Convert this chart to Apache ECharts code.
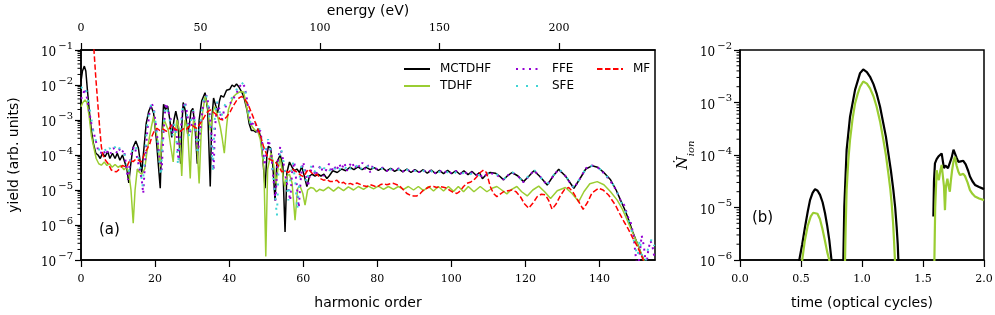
<!DOCTYPE html>
<html><head><meta charset="utf-8">
<script src="https://cdn.jsdelivr.net/npm/echarts@6/dist/echarts.min.js"></script>
<style>html,body{margin:0;padding:0;background:#fff}#c{width:995px;height:315px}</style>
</head><body><div id="c"></div>
<script>
// ---- Panel (a): yield vs harmonic order; y values are log10(yield) ----
const hoTicks = [0, 20, 40, 60, 80, 100, 120, 140];
const eVTicks = [0, 50, 100, 150, 200];
const eVPerHarmonic = 1.5498;
const hoMax = 155;

const mctdhf = [[0,-1.9],[0.4,-1.6],[0.9,-1.46],[1.3,-1.6],[1.7,-2.1],[2.2,-2.7],[2.8,-3.3],[3.4,-3.7],[4,-3.95],[4.6,-4.0],[5.2,-4.1],[5.8,-3.95],[6.5,-4.05],[7.2,-3.9],[7.8,-4.1],[8.5,-3.95],[9.2,-4.1],[9.8,-3.95],[10.5,-4.15],[11.2,-4.0],[11.8,-4.2],[12.4,-4.4],[12.9,-4.8],[13.4,-4.3],[14,-3.8],[14.8,-3.6],[15.5,-3.8],[16,-4.2],[16.4,-4.5],[17,-3.8],[17.6,-3.1],[18.3,-2.75],[18.9,-2.6],[19.6,-2.8],[20.3,-3.5],[20.9,-4.3],[21.4,-4.95],[21.8,-3.5],[22.3,-2.55],[22.8,-2.7],[23.4,-2.6],[24,-3.0],[24.5,-3.5],[25.1,-3.0],[25.6,-2.75],[26.1,-3.0],[26.5,-3.6],[26.9,-4.25],[27.2,-3.2],[27.6,-2.5],[28.2,-2.75],[28.8,-3.4],[29.3,-3.1],[29.7,-2.75],[30.2,-2.67],[30.8,-3.2],[31.4,-4.25],[31.9,-3.0],[32.6,-2.45],[33.5,-2.22],[34.2,-2.7],[34.9,-4.9],[35.3,-3.0],[35.8,-2.37],[36.4,-2.6],[36.9,-2.8],[37.4,-2.45],[37.8,-2.3],[38.5,-2.35],[39.3,-2.15],[40.2,-2.12],[40.8,-2.0],[41.4,-2.05],[42,-1.97],[42.6,-2.05],[43.4,-2.2],[44,-2.35],[44.8,-2.7],[45.4,-3.1],[46,-3.3],[46.6,-3.3],[47.2,-3.35],[47.9,-3.25],[48.5,-3.5],[49.1,-4.1],[49.7,-4.95],[50.2,-4.0],[50.6,-3.75],[51.2,-3.8],[51.8,-4.3],[52.4,-5.3],[52.9,-4.2],[53.8,-4.0],[54.5,-4.3],[55.1,-6.2],[55.6,-4.5],[56.3,-4.2],[57,-4.35],[57.6,-4.45],[58.3,-4.4],[59,-4.5],[59.6,-4.33],[60.3,-4.6],[61,-4.9],[61.7,-4.6],[62.4,-4.55],[63.2,-4.6],[64,-4.55],[64.8,-4.6],[65.6,-4.55],[66.4,-4.67],[67,-4.6],[68,-4.45],[69.2,-4.5],[70.4,-4.4],[71.5,-4.45],[72.6,-4.35],[73.7,-4.42],[74.8,-4.34],[75.9,-4.42],[77,-4.35],[78.1,-4.42],[79.2,-4.36],[80.3,-4.44],[81.4,-4.37],[82.5,-4.46],[83.6,-4.38],[84.7,-4.47],[85.8,-4.4],[86.9,-4.48],[88,-4.4],[89.1,-4.5],[90.2,-4.42],[91.3,-4.5],[92.4,-4.42],[93.5,-4.52],[94.6,-4.43],[95.7,-4.53],[96.8,-4.44],[97.9,-4.53],[99,-4.44],[100.1,-4.53],[101.2,-4.45],[102.3,-4.55],[103.4,-4.45],[104.5,-4.56],[105.6,-4.47],[106.7,-4.58],[107.6,-4.5],[108.4,-4.68],[109.5,-4.55],[110.5,-4.5],[111.9,-4.52],[113,-4.6],[114.1,-4.71],[115.3,-4.58],[116.4,-4.5],[118,-4.6],[119.5,-4.76],[121,-4.6],[122.3,-4.45],[124,-4.62],[125.9,-4.86],[127.5,-4.6],[129,-4.41],[130.8,-4.6],[133.1,-4.95],[134.6,-4.7],[136.3,-4.4],[138,-4.31],[139.5,-4.35],[141,-4.48],[143,-4.71],[144.5,-5.0],[145.7,-5.29],[147,-5.6],[147.9,-5.86],[149,-6.2],[150.2,-6.52],[151.2,-6.8],[152,-7.0],[153,-7.3]];

const tdhf = [[0,-2.62],[0.5,-2.5],[1.1,-2.43],[1.6,-2.5],[2.2,-2.9],[2.8,-3.45],[3.3,-3.7],[4.1,-4.1],[4.8,-4.25],[5.5,-4.29],[6.3,-4.2],[7,-4.3],[7.7,-4.25],[8.4,-4.35],[9.2,-4.27],[10,-4.35],[10.8,-4.3],[11.6,-4.42],[12.3,-4.35],[12.9,-4.5],[13.5,-5.0],[14.1,-5.95],[14.6,-5.0],[15.2,-4.4],[15.8,-4.5],[16.4,-4.55],[17.2,-4.4],[17.7,-4.0],[18.3,-3.6],[19,-3.2],[19.6,-2.9],[20.1,-2.95],[20.7,-3.6],[21.4,-4.33],[21.9,-3.4],[22.5,-3.0],[23,-3.05],[23.6,-3.3],[24.3,-3.8],[24.9,-4.2],[25.4,-3.4],[25.9,-3.0],[26.6,-3.3],[27.2,-4.6],[27.6,-3.6],[28.1,-3.0],[28.8,-3.3],[29.5,-4.67],[29.9,-3.5],[30.4,-3.0],[31.1,-3.3],[31.9,-4.81],[32.4,-3.5],[32.8,-2.81],[33.5,-2.33],[34.2,-2.6],[34.9,-3.3],[35.4,-3.0],[35.8,-2.7],[36.2,-2.62],[36.9,-2.9],[37.6,-3.2],[38.1,-3.5],[38.7,-3.95],[39.3,-3.2],[39.8,-2.71],[40.5,-2.5],[41.2,-2.33],[42,-2.25],[43,-2.19],[43.9,-2.2],[44.5,-2.5],[45.2,-2.9],[45.7,-3.1],[46.3,-3.2],[47,-3.29],[47.8,-3.35],[48.4,-3.55],[48.8,-3.86],[49.4,-4.4],[49.9,-6.9],[50.4,-4.4],[51.3,-3.95],[51.9,-4.2],[52.7,-4.81],[53.3,-4.3],[53.8,-4.1],[54.4,-4.5],[55,-4.9],[55.6,-4.6],[56.3,-4.55],[57,-4.8],[57.8,-5.86],[58.5,-4.95],[59.2,-4.9],[59.9,-5.1],[60.5,-5.43],[61.2,-5.0],[62,-4.93],[62.8,-4.95],[63.6,-5.05],[64.4,-4.98],[65.5,-5.02],[66.8,-4.92],[68.2,-5.03],[69.5,-4.92],[70.9,-5.02],[72.2,-4.91],[73.6,-5.0],[74.9,-4.9],[76.3,-4.98],[77.6,-4.89],[79,-4.97],[80.3,-4.89],[81.7,-4.98],[83,-4.9],[84.4,-4.98],[85.7,-4.9],[87.1,-4.98],[88.4,-4.9],[89.8,-5.0],[91.1,-4.9],[92.5,-5.02],[93.8,-4.9],[95.2,-5.03],[96.5,-4.9],[97.9,-5.03],[99.2,-4.9],[100.6,-5.04],[101.9,-4.9],[103.3,-5.05],[104.6,-4.9],[106.1,-5.05],[107.8,-4.9],[109.6,-5.05],[111,-4.95],[112.3,-4.9],[113.6,-5.0],[115,-5.11],[116.3,-4.98],[117.7,-4.9],[119,-5.05],[120.5,-5.17],[122,-5.0],[123.6,-4.89],[125.2,-5.05],[126.8,-5.24],[128.6,-5.02],[130.8,-4.93],[132.6,-5.1],[134.4,-5.33],[135.8,-5.05],[137.4,-4.82],[139.4,-4.76],[141.2,-4.85],[143,-5.05],[144.8,-5.29],[146.2,-5.55],[147.5,-5.86],[148.8,-6.18],[150.2,-6.52],[151.2,-6.8],[152,-7.0],[153,-7.3]];

const ffe = [[0,-2.4],[0.5,-2.3],[1,-2.1],[1.5,-2.3],[2.2,-2.75],[2.8,-3.1],[3.4,-3.35],[4,-3.6],[4.6,-3.85],[5.3,-3.95],[6,-3.85],[6.7,-4.0],[7.4,-3.85],[8.1,-3.95],[8.8,-3.8],[9.5,-3.95],[10.2,-3.8],[10.9,-3.95],[11.6,-3.85],[12.2,-4.3],[12.7,-4.71],[13.2,-4.2],[13.8,-3.85],[14.5,-3.75],[15.2,-4.1],[15.8,-4.4],[16.4,-4.7],[16.8,-5.1],[17.3,-4.2],[17.9,-3.3],[18.5,-2.8],[19.1,-2.52],[19.7,-2.7],[20.4,-3.3],[21.2,-4.1],[21.8,-4.43],[22.3,-3.3],[22.9,-2.52],[23.5,-2.75],[24.1,-2.9],[24.8,-3.4],[25.4,-3.2],[25.9,-3.5],[26.3,-4.14],[26.8,-3.5],[27.4,-2.7],[28.1,-2.48],[28.8,-2.9],[29.4,-3.4],[29.9,-3.1],[30.4,-2.76],[31,-3.3],[31.6,-3.9],[32.2,-3.3],[33,-2.55],[33.9,-2.29],[34.5,-2.6],[35.1,-3.2],[35.8,-4.43],[36.2,-3.2],[36.8,-2.5],[37.4,-2.7],[38,-3.0],[38.7,-2.7],[39.4,-2.55],[40.3,-2.52],[41.1,-2.4],[41.9,-2.25],[42.8,-2.05],[43.6,-1.95],[44.2,-2.05],[44.8,-2.4],[45.4,-2.8],[46,-3.2],[46.6,-3.05],[47.2,-3.1],[47.8,-3.4],[48.4,-3.3],[49,-3.7],[49.6,-4.3],[50.2,-3.8],[50.7,-3.57],[51.3,-3.9],[51.9,-4.6],[52.5,-5.3],[53,-4.3],[53.8,-3.76],[54.5,-4.1],[55.2,-4.6],[56,-5.0],[56.5,-5.3],[57,-4.5],[57.6,-4.2],[58.3,-4.9],[58.8,-5.5],[59.4,-4.6],[60,-4.2],[60.7,-4.5],[61.3,-4.9],[61.9,-4.5],[62.6,-4.3],[63.3,-4.6],[64,-4.4],[64.8,-4.3],[65.5,-4.6],[66.3,-4.4],[67,-4.25],[67.6,-4.5],[68.3,-4.3],[69,-4.45],[69.7,-4.25],[70.4,-4.4],[71.1,-4.22],[71.8,-4.45],[72.5,-4.3],[73.2,-4.2],[73.9,-4.4],[74.6,-4.25],[75.3,-4.35],[76,-4.22],[76.7,-4.4],[77.4,-4.28],[78.1,-4.5],[78.8,-4.3],[79.5,-4.38],[80.3,-4.42],[81.4,-4.36],[82.5,-4.46],[83.6,-4.38],[84.7,-4.46],[85.8,-4.38],[86.9,-4.47],[88,-4.4],[89.1,-4.5],[90.2,-4.42],[91.3,-4.49],[92.4,-4.42],[93.5,-4.51],[94.6,-4.43],[95.7,-4.52],[96.8,-4.44],[97.9,-4.53],[99,-4.44],[100.1,-4.53],[101.2,-4.45],[102.3,-4.55],[103.4,-4.46],[104.5,-4.56],[105.6,-4.5],[106.7,-4.58],[107.6,-4.52],[108.4,-4.65],[109.5,-4.55],[110.5,-4.52],[111.9,-4.55],[113,-4.62],[114.1,-4.7],[115.3,-4.58],[116.4,-4.5],[118,-4.6],[119.5,-4.78],[121,-4.6],[122.3,-4.44],[124,-4.62],[125.9,-4.86],[127.5,-4.6],[129,-4.41],[130.8,-4.6],[133.1,-4.95],[134.6,-4.7],[136.3,-4.38],[138,-4.3],[139.5,-4.35],[141,-4.5],[143,-4.75],[144.5,-5.0],[145.7,-5.3],[146.8,-5.45],[147.6,-5.75],[148.4,-5.9],[149.2,-6.3],[149.8,-6.9],[150.3,-7.3],[150.9,-6.8],[151.4,-6.3],[152,-6.6],[152.6,-7.2],[153.2,-6.7],[153.8,-6.45],[154.3,-6.6],[154.8,-6.9]];

const sfe = [[0,-2.1],[0.6,-2.0],[1.1,-1.95],[1.6,-2.2],[2.4,-2.71],[3.3,-3.29],[4.2,-3.67],[4.9,-3.85],[5.6,-3.9],[6.3,-3.8],[7,-3.95],[7.7,-3.8],[8.4,-3.9],[9.1,-3.76],[9.8,-3.92],[10.5,-3.78],[11.2,-3.9],[11.8,-4.0],[12.4,-4.3],[12.9,-4.5],[13.4,-4.1],[14,-3.8],[14.7,-3.72],[15.4,-4.0],[16,-4.3],[16.6,-4.9],[17.2,-4.1],[17.8,-3.2],[18.4,-2.75],[19,-2.55],[19.6,-2.65],[20.3,-3.2],[21,-4.0],[21.6,-4.6],[22.1,-3.4],[22.7,-2.6],[23.3,-2.7],[23.9,-2.95],[24.6,-3.5],[25.2,-3.1],[25.7,-3.4],[26.2,-4.3],[26.7,-3.6],[27.3,-2.75],[27.9,-2.5],[28.6,-2.85],[29.2,-3.5],[29.7,-3.0],[30.3,-2.72],[30.9,-3.2],[31.5,-4.0],[32.1,-3.2],[32.8,-2.55],[33.7,-2.25],[34.3,-2.55],[35,-3.3],[35.6,-4.5],[36,-3.1],[36.6,-2.45],[37.2,-2.65],[37.8,-2.95],[38.5,-2.65],[39.2,-2.5],[40.1,-2.45],[40.9,-2.35],[41.7,-2.2],[42.6,-2.0],[43.4,-1.93],[44,-2.0],[44.6,-2.3],[45.2,-2.75],[45.8,-3.1],[46.4,-3.0],[47,-3.05],[47.6,-3.3],[48.2,-3.25],[48.8,-3.6],[49.4,-4.1],[50,-3.75],[50.5,-3.55],[51.1,-3.8],[51.7,-4.4],[52.3,-5.0],[52.9,-5.76],[53.4,-4.2],[54,-3.8],[54.7,-4.2],[55.4,-4.7],[56,-5.3],[56.6,-4.6],[57.2,-4.2],[57.9,-4.8],[58.4,-5.57],[59,-4.7],[59.6,-4.25],[60.3,-4.45],[60.9,-4.8],[61.6,-4.45],[62.3,-4.3],[63,-4.5],[63.7,-4.35],[64.4,-4.3],[65.1,-4.5],[65.8,-4.35],[66.5,-4.3],[67.2,-4.45],[67.9,-4.3],[68.6,-4.4],[69.3,-4.28],[70,-4.42],[70.7,-4.3],[71.4,-4.38],[72.1,-4.25],[72.8,-4.4],[73.5,-4.3],[74.2,-4.36],[74.9,-4.24],[75.6,-4.4],[76.3,-4.3],[77,-4.38],[77.7,-4.28],[78.4,-4.42],[79.1,-4.34],[79.8,-4.4],[80.8,-4.4],[81.9,-4.37],[83,-4.45],[84.1,-4.38],[85.2,-4.46],[86.3,-4.39],[87.4,-4.47],[88.5,-4.4],[89.6,-4.5],[90.7,-4.42],[91.8,-4.5],[92.9,-4.43],[94,-4.52],[95.1,-4.43],[96.2,-4.53],[97.3,-4.44],[98.4,-4.53],[99.5,-4.45],[100.6,-4.54],[101.7,-4.45],[102.8,-4.55],[103.9,-4.46],[105,-4.56],[106.1,-4.48],[107.2,-4.56],[108.2,-4.62],[109,-4.6],[110,-4.52],[111.4,-4.5],[112.6,-4.58],[114.1,-4.7],[115.5,-4.56],[116.6,-4.5],[118,-4.62],[119.5,-4.76],[121,-4.58],[122.5,-4.44],[124.2,-4.65],[125.9,-4.84],[127.6,-4.58],[129.2,-4.41],[131,-4.62],[133.1,-4.93],[134.8,-4.66],[136.5,-4.36],[138.2,-4.3],[139.7,-4.36],[141.2,-4.52],[143.2,-4.75],[144.7,-5.05],[145.9,-5.35],[147,-5.6],[148,-5.9],[148.8,-6.2],[149.6,-6.6],[150.3,-6.9],[150.9,-6.4],[151.5,-6.9],[152.2,-7.2],[152.8,-6.8],[153.5,-6.55],[154.2,-6.38],[154.8,-6.6]];

const mf = [[2.9,-0.5],[3.5,-1.0],[4.0,-1.8],[4.6,-2.62],[5.1,-3.3],[5.5,-3.76],[5.9,-4.0],[6.6,-4.15],[7.3,-4.24],[8.2,-4.43],[9,-4.47],[9.6,-4.48],[10.4,-4.4],[11.2,-4.3],[12.3,-4.35],[13.2,-4.15],[14.1,-4.19],[14.8,-4.12],[15.4,-4.14],[16.3,-4.2],[17.2,-3.95],[18,-3.8],[18.6,-3.67],[19.2,-3.45],[19.9,-3.29],[20.5,-3.24],[21.3,-3.3],[22.2,-3.26],[23,-3.32],[23.6,-3.29],[24.4,-3.14],[25.3,-3.25],[26.1,-3.3],[26.8,-3.33],[27.6,-3.25],[28.4,-3.28],[29.2,-3.18],[29.9,-3.14],[30.6,-3.2],[31.3,-3.24],[32.2,-3.1],[33.1,-2.95],[34,-2.78],[34.9,-2.71],[35.8,-2.78],[36.7,-2.86],[37.6,-2.98],[38.5,-3.0],[39.4,-2.9],[40.3,-2.76],[41.2,-2.58],[42.1,-2.43],[42.8,-2.36],[43.4,-2.33],[44.2,-2.4],[45.1,-2.55],[46.1,-2.81],[46.8,-3.0],[47.5,-3.19],[48.4,-3.43],[49.3,-3.76],[50,-3.95],[50.6,-4.1],[51.5,-4.15],[52.4,-4.2],[53.3,-4.3],[54.2,-4.48],[55.1,-4.45],[56,-4.5],[57,-4.4],[57.8,-4.45],[58.7,-4.52],[59.4,-4.58],[60.1,-4.62],[60.8,-4.5],[61.4,-4.4],[62.2,-4.5],[63,-4.58],[63.8,-4.55],[64.6,-4.67],[65.5,-4.72],[66.4,-4.7],[67.3,-4.76],[68.2,-4.76],[69.1,-4.72],[70,-4.82],[70.9,-4.78],[71.8,-4.85],[72.7,-4.81],[73.6,-4.85],[74.5,-4.8],[75.4,-4.84],[76.3,-4.88],[77.2,-4.9],[78.1,-4.85],[79,-4.88],[79.9,-4.92],[80.8,-4.85],[81.7,-4.82],[82.6,-4.85],[83.5,-4.82],[84.4,-4.81],[85.3,-4.85],[86.2,-4.9],[87.1,-5.0],[88,-5.1],[88.9,-5.15],[89.8,-5.17],[90.7,-5.17],[91.6,-5.1],[92.5,-5.0],[93.4,-4.95],[94.3,-4.9],[95.2,-4.9],[96.1,-4.93],[97,-4.9],[97.9,-4.92],[98.8,-4.95],[99.7,-5.02],[100.6,-5.07],[101.5,-5.1],[102.4,-5.03],[103.3,-4.9],[104.2,-4.81],[105.1,-4.78],[106,-4.72],[106.9,-4.62],[107.8,-4.5],[108.7,-4.43],[109.5,-4.5],[110.5,-4.9],[111.4,-5.1],[112.3,-5.19],[113.2,-5.12],[114.1,-5.05],[115.3,-5.02],[116.4,-5.0],[117.5,-5.05],[118.7,-5.2],[119.8,-5.4],[120.9,-5.52],[122,-5.38],[123.2,-5.19],[124.3,-5.12],[125.4,-5.14],[126.3,-5.3],[127.2,-5.55],[128.3,-5.4],[129.5,-5.15],[130.6,-4.98],[131.7,-4.93],[132.8,-5.05],[134.2,-5.3],[135.6,-5.55],[136.8,-5.35],[138,-5.08],[139.8,-4.95],[141,-5.0],[142.5,-5.15],[144.3,-5.43],[145.5,-5.68],[146.6,-5.9],[147.7,-6.1],[148.8,-6.33],[150,-6.57],[151.1,-6.81],[152,-7.05],[152.8,-7.3]];

// ---- Panel (b): ionization rate vs time; y values are log10, null marks a gap ----
const timeTicks = [0, 0.5, 1.0, 1.5, 2.0];
const ionMctdhf = [[0.45,-6.5],[0.486,-6.0],[0.51,-5.7],[0.533,-5.37],[0.555,-5.08],[0.574,-4.86],[0.595,-4.72],[0.615,-4.65],[0.636,-4.68],[0.656,-4.76],[0.677,-4.9],[0.697,-5.11],[0.715,-5.35],[0.732,-5.62],[0.75,-6.0],[0.76,-6.5],[0.8,null],
 [0.84,-6.5],[0.847,-6.0],[0.855,-4.98],[0.874,-3.9],[0.902,-3.27],[0.943,-2.76],[0.984,-2.44],[1.01,-2.37],[1.04,-2.42],[1.066,-2.51],[1.094,-2.65],[1.12,-2.83],[1.148,-3.08],[1.175,-3.4],[1.196,-3.65],[1.216,-3.97],[1.237,-4.3],[1.257,-4.67],[1.272,-5.0],[1.284,-5.37],[1.293,-5.7],[1.298,-6.0],[1.305,-6.5],[1.4,null],
 [1.585,-5.17],[1.59,-4.5],[1.598,-4.16],[1.612,-4.08],[1.626,-4.03],[1.64,-4.0],[1.653,-3.97],[1.663,-4.12],[1.672,-4.25],[1.683,-4.2],[1.694,-4.22],[1.705,-4.25],[1.72,-4.22],[1.735,-4.05],[1.75,-3.9],[1.762,-3.93],[1.775,-4.05],[1.79,-4.13],[1.81,-4.12],[1.83,-4.11],[1.85,-4.18],[1.87,-4.3],[1.885,-4.41],[1.905,-4.5],[1.926,-4.57],[1.96,-4.61],[2.0,-4.65]];
const ionTdhf = [[0.49,-6.5],[0.51,-6.0],[0.53,-5.65],[0.555,-5.35],[0.58,-5.17],[0.6,-5.1],[0.615,-5.09],[0.635,-5.12],[0.655,-5.22],[0.675,-5.4],[0.695,-5.62],[0.715,-5.85],[0.732,-6.0],[0.745,-6.5],[0.8,null],
 [0.85,-6.5],[0.861,-6.0],[0.866,-5.4],[0.874,-4.67],[0.888,-4.1],[0.902,-3.71],[0.922,-3.32],[0.943,-3.02],[0.964,-2.84],[0.984,-2.7],[1.01,-2.6],[1.04,-2.64],[1.066,-2.73],[1.094,-2.88],[1.12,-3.08],[1.148,-3.36],[1.175,-3.71],[1.196,-4.0],[1.216,-4.35],[1.232,-4.65],[1.243,-4.92],[1.255,-5.3],[1.263,-5.65],[1.27,-6.0],[1.278,-6.5],[1.4,null],
 [1.59,-6.5],[1.6,-5.0],[1.612,-4.29],[1.62,-4.4],[1.63,-4.48],[1.642,-4.3],[1.653,-4.19],[1.662,-4.16],[1.672,-4.6],[1.68,-5.05],[1.688,-4.6],[1.7,-4.45],[1.71,-4.6],[1.72,-4.7],[1.728,-4.5],[1.738,-4.3],[1.75,-4.12],[1.762,-4.03],[1.775,-4.2],[1.79,-4.32],[1.803,-4.38],[1.817,-4.36],[1.83,-4.36],[1.844,-4.4],[1.865,-4.52],[1.885,-4.67],[1.905,-4.74],[1.926,-4.79],[1.96,-4.83],[2.0,-4.86]];

const SERIF = 'DejaVu Serif';
const SANS = 'DejaVu Sans';
const prep = arr => arr.map(([x, y]) => [x, y === null ? '-' : y]);
const expLabel = v => '{b|10}{s|\u2212' + Math.round(-v) + '}';
const expRich = {
  b: {fontFamily: SERIF, fontSize: 12, color: '#000', lineHeight: 18, verticalAlign: 'bottom'},
  s: {fontFamily: SERIF, fontSize: 10, color: '#000', lineHeight: 12, verticalAlign: 'top', padding: [0, 0, 0, 2]}
};
const tickLbl = {fontFamily: SERIF, fontSize: 11, color: '#000'};
const axLine = {show: true, lineStyle: {color: '#000', width: 1.5}};
const nameStyle = {fontFamily: SANS, fontSize: 14, color: '#000'};

function minorTicks(gi, lo, hi) {
  const vals = [];
  for (let n = lo; n < hi; n++) for (let k = 2; k <= 9; k++) vals.push([0, n + Math.log10(k)]);
  return {
    type: 'custom', xAxisIndex: gi === 0 ? 0 : 2, yAxisIndex: gi, silent: true, clip: false, z: 5,
    data: vals, encode: {x: 0, y: 1},
    renderItem: (params, api) => {
      const p = api.coord([api.value(0), api.value(1)]);
      const x0 = params.coordSys.x;
      return {type: 'line', shape: {x1: x0 - 3.5, y1: p[1], x2: x0, y2: p[1]}, style: {stroke: '#000', lineWidth: 1}};
    }
  };
}

const legendBase = {
  orient: 'vertical', top: 57, itemWidth: 26, itemHeight: 10, itemGap: 3, selectedMode: false,
  itemStyle: {opacity: 0, borderWidth: 0},
  textStyle: {fontFamily: SANS, fontSize: 12, color: '#000', lineHeight: 14, padding: [0, 0, 0, 5]}
};

const chart = echarts.init(document.getElementById('c'), null, {renderer: 'canvas'});
chart.setOption({
  animation: false,
  backgroundColor: '#fff',
  grid: [
    {left: 81, top: 50, width: 574, height: 210, show: true, borderColor: '#000', borderWidth: 1.5, backgroundColor: 'transparent', containLabel: false, outerBoundsMode: 'none'},
    {left: 740, top: 50, width: 244, height: 210, show: true, borderColor: '#000', borderWidth: 1.5, backgroundColor: 'transparent', containLabel: false, outerBoundsMode: 'none'}
  ],
  xAxis: [
    {type: 'value', gridIndex: 0, position: 'bottom', min: 0, max: hoMax, interval: 20,
     axisLine: axLine, splitLine: {show: false},
     axisTick: {show: true, length: 7, customValues: hoTicks, lineStyle: {color: '#000', width: 1.2}},
     axisLabel: Object.assign({margin: 14, customValues: hoTicks}, tickLbl),
     name: 'harmonic order', nameLocation: 'middle', nameGap: 36, nameTextStyle: nameStyle},
    {type: 'value', gridIndex: 0, position: 'top', min: 0, max: hoMax * eVPerHarmonic, interval: 50,
     axisLine: axLine, splitLine: {show: false},
     axisTick: {show: true, length: 7, customValues: eVTicks, lineStyle: {color: '#000', width: 1.2}},
     axisLabel: Object.assign({margin: 16, customValues: eVTicks}, tickLbl),
     name: 'energy (eV)', nameLocation: 'middle', nameGap: 32, nameTextStyle: nameStyle},
    {type: 'value', gridIndex: 1, position: 'bottom', min: 0, max: 2, interval: 0.5,
     axisLine: axLine, splitLine: {show: false},
     axisTick: {show: true, length: 7, customValues: timeTicks, lineStyle: {color: '#000', width: 1.2}},
     axisLabel: Object.assign({margin: 14, customValues: timeTicks, formatter: v => v.toFixed(1)}, tickLbl),
     name: 'time (optical cycles)', nameLocation: 'middle', nameGap: 36, nameTextStyle: nameStyle}
  ],
  yAxis: [
    {type: 'value', gridIndex: 0, min: -7, max: -1, interval: 1,
     axisLine: axLine, splitLine: {show: false},
     axisTick: {show: true, length: 6, lineStyle: {color: '#000', width: 1.2}},
     axisLabel: {margin: 8, formatter: expLabel, rich: expRich},
     name: 'yield (arb. units)', nameLocation: 'middle', nameGap: 60, nameTextStyle: nameStyle},
    {type: 'value', gridIndex: 1, min: -6, max: -2, interval: 1,
     axisLine: axLine, splitLine: {show: false},
     axisTick: {show: true, length: 6, lineStyle: {color: '#000', width: 1.2}},
     axisLabel: {margin: 8, formatter: expLabel, rich: expRich},
     name: '{n|\u1E44}{i|ion}', nameLocation: 'middle', nameGap: 42,
     nameTextStyle: {rich: {
       n: {fontFamily: SERIF, fontStyle: 'italic', fontSize: 15, color: '#000', lineHeight: 20, verticalAlign: 'top'},
       i: {fontFamily: SERIF, fontStyle: 'italic', fontSize: 10, color: '#000', lineHeight: 12, verticalAlign: 'bottom'}
     }}}
  ],
  legend: [
    Object.assign({left: 398, data: ['MCTDHF', 'TDHF']}, legendBase),
    Object.assign({left: 510, data: ['FFE', 'SFE']}, legendBase),
    Object.assign({left: 591, data: ['MF']}, legendBase)
  ],
  graphic: [
    {type: 'text', left: 99, top: 223, style: {text: '(a)', font: '15px "DejaVu Sans"', fill: '#000'}},
    {type: 'text', left: 752, top: 211, style: {text: '(b)', font: '15px "DejaVu Sans"', fill: '#000'}}
  ],
  series: [
    {name: 'MCTDHF', type: 'line', xAxisIndex: 0, yAxisIndex: 0, data: prep(mctdhf), symbol: 'none',
     lineStyle: {color: '#000', width: 1.5}, itemStyle: {color: '#000'}},
    {name: 'TDHF', type: 'line', xAxisIndex: 0, yAxisIndex: 0, data: prep(tdhf), symbol: 'none',
     lineStyle: {color: '#9acd32', width: 1.5}, itemStyle: {color: '#9acd32'}},
    {name: 'FFE', type: 'line', xAxisIndex: 0, yAxisIndex: 0, data: prep(ffe), symbol: 'none',
     lineStyle: {color: '#9400d3', width: 2, type: [2, 4.5]}, itemStyle: {color: '#9400d3'}},
    {name: 'SFE', type: 'line', xAxisIndex: 0, yAxisIndex: 0, data: prep(sfe), symbol: 'none',
     lineStyle: {color: '#3fd4d4', width: 2, type: [2, 8]}, itemStyle: {color: '#3fd4d4'}},
    {name: 'MF', type: 'line', xAxisIndex: 0, yAxisIndex: 0, data: prep(mf), symbol: 'none',
     lineStyle: {color: '#ff0000', width: 1.5, type: [5.5, 2.5]}, itemStyle: {color: '#ff0000'}},
    {name: 'ion MCTDHF', type: 'line', xAxisIndex: 2, yAxisIndex: 1, data: prep(ionMctdhf), symbol: 'none',
     connectNulls: false, lineStyle: {color: '#000', width: 2.2}},
    {name: 'ion TDHF', type: 'line', xAxisIndex: 2, yAxisIndex: 1, data: prep(ionTdhf), symbol: 'none',
     connectNulls: false, lineStyle: {color: '#9acd32', width: 2.2}},
    minorTicks(0, -7, -1),
    minorTicks(1, -6, -2)
  ]
});
</script></body></html>
